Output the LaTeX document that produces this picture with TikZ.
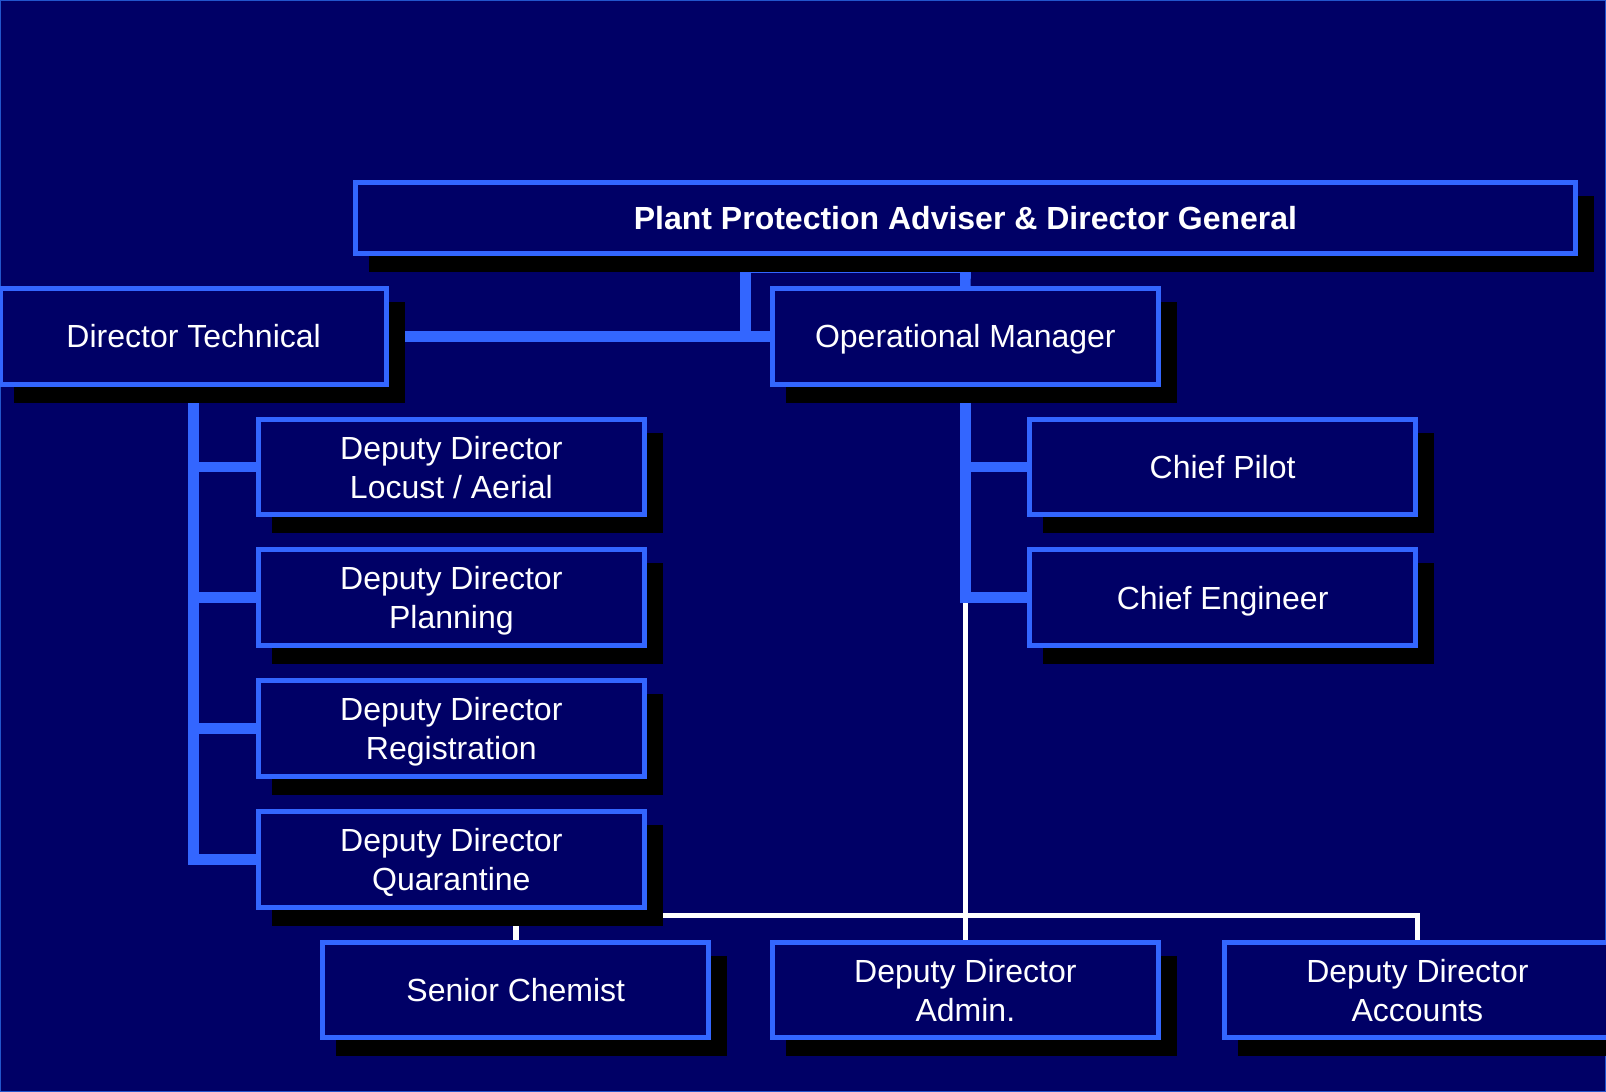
\documentclass[tikz,border=0pt]{standalone}
\usepackage{fontspec}
\setmainfont{Liberation Sans}
\usetikzlibrary{shadows}
\definecolor{slidenavy}{HTML}{000066}
\definecolor{boxblue}{HTML}{3366FF}
\definecolor{rimblue}{HTML}{2255CC}
\pgfdeclarelayer{backdrop}
\pgfdeclarelayer{links}
\pgfsetlayers{backdrop,links,main}

\begin{document}
\begin{tikzpicture}[x=1pt, y=-1pt,
    post/.style={draw=boxblue, line width=5pt, fill=slidenavy, text=white,
        align=center, font=\fontsize{32}{39}\selectfont, text depth=0pt,
        minimum width=385.7pt, minimum height=95.6pt,
        drop shadow={shadow xshift=16pt, shadow yshift=-16pt, opacity=1, fill=black, draw=black}},
    head/.style={minimum width=1220pt, minimum height=71pt, font=\fontsize{32}{39}\selectfont\bfseries},
    link/.style={boxblue, line width=10.7pt},
    wire/.style={white, line width=5.5pt}
]
\useasboundingbox (0,0) rectangle (1606,1092);

% top row
\node[post, head] (ppa) at (965.5,218) {Plant Protection Adviser \& Director General};
\node[post] (tech) at (193.65,336.35) {Director Technical};
\node[post] (ops) at (965.35,336.35) {Operational Manager};

% technical side
\node[post] (locust) at (451.35,467) {Deputy Director\\Locust / Aerial};
\node[post] (plan) at (451.35,597.75) {Deputy Director\\Planning};
\node[post] (regis) at (451.35,728.5) {Deputy Director\\Registration};
\node[post] (quar) at (451.35,859.25) {Deputy Director\\Quarantine};

% operations side
\node[post] (pilot) at (1222.65,467) {Chief Pilot};
\node[post] (engin) at (1222.65,597.75) {Chief Engineer};

% bottom row
\node[post] (chem) at (515.8,990) {Senior Chemist};
\node[post] (admin) at (965.35,990) {Deputy Director\\Admin.};
\node[post] (acct) at (1417.4,990) {Deputy Director\\Accounts};

\coordinate (elbow) at (745.5,268);
\coordinate (bus) at (965.35,915.3);

\begin{pgfonlayer}{backdrop}
\fill[slidenavy] (0,0) rectangle (1606,1092);
\draw[rimblue, line width=2pt] (0,0) rectangle (1606,1092);
\end{pgfonlayer}

\begin{pgfonlayer}{links}
% white lines under the blue ones
\draw[wire] (ops.south) -- (admin.north);
\draw[wire] (bus) -| (chem.north);
\draw[wire] (bus) -| (acct.north);

% blue lines
\draw[link] (ppa.south) -- (ops.north);
\draw[link] (ppa.south) -- (ppa.south |- elbow) -- (elbow) |- (tech.east);
\draw[link] (tech.east) -- (ops.west);

\draw[link] (tech.south) |- (quar.west);
\draw[link] (tech.south |- locust.west) -- (locust.west);
\draw[link] (tech.south |- plan.west) -- (plan.west);
\draw[link] (tech.south |- regis.west) -- (regis.west);

\draw[link] (ops.south) |- (engin.west);
\draw[link] (ops.south |- pilot.west) -- (pilot.west);
\end{pgfonlayer}

\end{tikzpicture}
\end{document}
